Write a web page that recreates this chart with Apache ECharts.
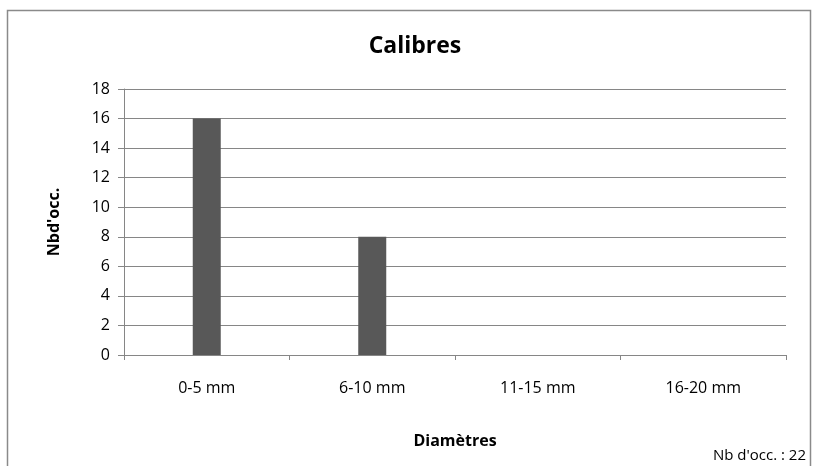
<!DOCTYPE html>
<html lang="fr">
<head>
    <meta charset="UTF-8">
    <title>Calibres</title>
    <script src="https://cdn.jsdelivr.net/npm/echarts@6/dist/echarts.min.js"></script>
    <style>
        html, body { margin: 0; padding: 0; background: #fff; }
        #chart { width: 824px; height: 466px; }
    </style>
</head>
<body>
<div id="chart"></div>
<script type="text/javascript">
    var categories = ['0-5 mm', '6-10 mm', '11-15 mm', '16-20 mm'];
    var counts = [16, 8, 0, 0];
    var total = 22;

    var font = '"Open Sans", "Noto Sans", sans-serif';
    var myChart = echarts.init(document.getElementById('chart'));

    var option = {
        animation: false,
        textStyle: {fontFamily: font},
        title: {
            text: 'Calibres',
            left: 410,
            top: 30,
            textAlign: 'center',
            textStyle: {fontSize: 23, fontWeight: 'bold', color: '#000', fontFamily: font}
        },
        grid: {left: 124, top: 89, right: 38, bottom: 111},
        graphic: [
            {
                type: 'rect',
                shape: {x: 7.5, y: 10.5, width: 803, height: 470},
                style: {fill: 'none', stroke: '#8a8a8a', lineWidth: 1.5},
                z: -1
            },
            {
                type: 'text',
                right: 18,
                top: 448,
                style: {text: "Nb d'occ. : " + total, fontSize: 15, fill: '#000', fontFamily: font}
            }
        ],
        xAxis: {
            type: 'category',
            data: categories,
            name: 'Diamètres',
            nameLocation: 'middle',
            nameGap: 78,
            nameTextStyle: {fontSize: 16, fontWeight: 'bold', color: '#000'},
            axisLine: {lineStyle: {color: '#868686', width: 1}},
            axisTick: {show: true, length: 5, lineStyle: {color: '#868686'}},
            axisLabel: {fontSize: 16, color: '#000', margin: 25}
        },
        yAxis: {
            type: 'value',
            min: 0,
            max: 18,
            interval: 2,
            name: "Nbd'occ.",
            nameLocation: 'middle',
            nameGap: 62,
            nameTextStyle: {fontSize: 16, fontWeight: 'bold', color: '#000'},
            axisLine: {show: true, lineStyle: {color: '#868686', width: 1}},
            axisTick: {show: true, length: 6, lineStyle: {color: '#868686'}},
            axisLabel: {fontSize: 16, color: '#000', margin: 14},
            splitLine: {lineStyle: {color: '#868686', width: 1}}
        },
        series: [{
            type: 'bar',
            data: counts,
            barWidth: 28,
            itemStyle: {color: '#585858', borderWidth: 0}
        }]
    };

    myChart.setOption(option);
</script>
</body>
</html>
